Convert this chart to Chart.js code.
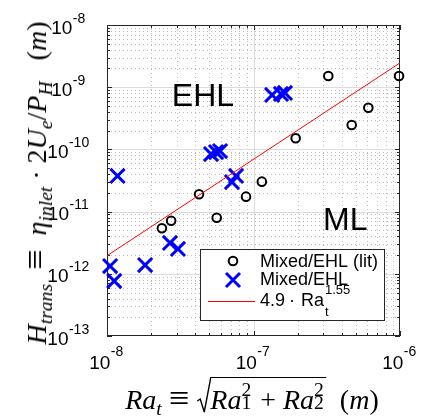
<!DOCTYPE html>
<html>
<head>
<meta charset="utf-8">
<script src="https://cdn.jsdelivr.net/npm/chart.js@4.4.1/dist/chart.umd.min.js"></script>
<style>
  body { margin: 0; background: #fff; }
  #wrap { position: relative; width: 422px; height: 416px; overflow: hidden; }
  .math { position: absolute; font-family: "Liberation Serif", serif; white-space: nowrap; color: #000; line-height: 1; }
  .math i { font-style: italic; }
  .math .sb { font-size: 0.7em; position: relative; top: 0.3em; }
  .math .eq { font-size: 1.3em; line-height: 0; position: relative; top: 0.04em; }
  .ss { display: inline-block; position: relative; width: 0.42em; height: 1em; }
  .ss .u { position: absolute; left: 0; top: -0.05em; font-size: 0.7em; line-height: 1; }
  .ss .d { position: absolute; left: 0; top: 0.62em; font-size: 0.7em; line-height: 1; }
  .rad { display: inline-block; vertical-align: -4px; margin-right: -1px; }
  .ov { display: inline-block; border-top: 1.3px solid #000; padding-top: 0.1em; }
  #ytitle { font-size: 28px; left: 37px; top: 183px; transform: translate(-50%, -50%) rotate(-90deg); }
  #xtitle { font-size: 28px; left: 252px; top: 377px; transform: translateX(-50%); }
</style>
</head>
<body>
<div id="wrap">
  <canvas id="chart" width="422" height="416"></canvas>
  <div id="ytitle" class="math"><i>H</i><span class="sb"><i>trans</i></span>&nbsp; <span class="eq">&equiv;</span>&nbsp; <i>&eta;</i><span class="sb"><i>inlet</i></span> &middot; 2<i>U</i><span class="sb"><i>e</i></span>/<i>P</i><span class="sb"><i>H</i></span> &nbsp; (<i>m</i>)</div>
  <div id="xtitle" class="math"><i>Ra</i><span class="sb"><i>t</i></span> <span class="eq">&equiv;</span> <svg class="rad" width="15" height="36" viewBox="0 0 15 36"><polyline points="1,24 4,22 8,35 14.5,0.7 15,0.7" fill="none" stroke="#000" stroke-width="1.4"/></svg><span class="ov"><i>Ra</i><span class="ss"><span class="u">2</span><span class="d">1</span></span> + <i>Ra</i><span class="ss"><span class="u">2</span><span class="d">2</span></span></span> &nbsp;(<i>m</i>)</div>
</div>
<script>
// literature points (black circles)
const litX = [3.24e-7, 9.85e-7, 6.08e-7, 4.68e-7, 1.94e-7, 1.14e-7, 4.25e-8, 8.89e-8, 5.61e-8, 2.74e-8, 2.37e-8];
const litY = [1.51e-9, 1.51e-9, 4.68e-10, 2.47e-10, 1.51e-10, 3.03e-11, 1.90e-11, 1.74e-11, 7.98e-12, 7.14e-12, 5.39e-12];

// own measurements (blue crosses)
const expX = [1.34e-7, 1.54e-7, 1.64e-7, 5.13e-8, 5.55e-8, 5.91e-8, 7.13e-8, 7.60e-8, 1.18e-8, 2.69e-8, 3.05e-8, 1.82e-8, 1.05e-8, 1.12e-8];
const expY = [7.5e-10, 7.78e-10, 8.07e-10, 8.43e-11, 9.08e-11, 9.42e-11, 2.99e-11, 3.74e-11, 3.74e-11, 3.13e-12, 2.51e-12, 1.38e-12, 1.33e-12, 7.66e-13];

// fit line 4.9 * Ra^1.55, end points
const fitX = [1e-8, 1e-6];
const fitY = [1.95e-12, 2.46e-9];

const xTicks = [1e-8, 1e-7, 1e-6];
const xTickExp = ['-8', '-7', '-6'];
const yTicks = [1e-13, 1e-12, 1e-11, 1e-10, 1e-9, 1e-8];
const yTickExp = ['-13', '-12', '-11', '-10', '-9', '-8'];

const legendLabels = ['Mixed/EHL (lit)', 'Mixed/EHL'];

function minorsFor(ticks) {
  const out = [];
  for (let i = 0; i < ticks.length - 1; i++) {
    for (let k = 2; k <= 9; k++) out.push(ticks[i] * k);
  }
  return out;
}

function drawPow(ctx, cx, base, exp, baseY, supY, bigFont, smallFont) {
  ctx.font = bigFont;
  const w1 = ctx.measureText(base).width;
  ctx.font = smallFont;
  const w2 = ctx.measureText(exp).width;
  const x0 = cx - (w1 + w2) / 2;
  ctx.font = bigFont;
  ctx.fillText(base, x0, baseY);
  ctx.font = smallFont;
  ctx.fillText(exp, x0 + w1 + 0.5, supY);
}

const matlabAxes = {
  id: 'matlabAxes',
  beforeDatasetsDraw(chart) {
    const ctx = chart.ctx;
    const { left, right, top, bottom } = chart.chartArea;
    const xs = chart.scales.x, ys = chart.scales.y;
    const xMinor = minorsFor(xTicks), yMinor = minorsFor(yTicks);
    ctx.save();
    ctx.lineWidth = 1;

    // minor grid, dotted
    ctx.strokeStyle = '#bdbdbd';
    ctx.setLineDash([1, 3]);
    ctx.beginPath();
    xMinor.forEach(v => {
      const p = Math.round(xs.getPixelForValue(v)) + 0.5;
      ctx.moveTo(p, top); ctx.lineTo(p, bottom);
    });
    yMinor.forEach(v => {
      const p = Math.round(ys.getPixelForValue(v)) + 0.5;
      ctx.moveTo(left, p); ctx.lineTo(right, p);
    });
    ctx.stroke();

    // major grid
    ctx.setLineDash([]);
    ctx.strokeStyle = '#dcdcdc';
    ctx.beginPath();
    xTicks.slice(1, -1).forEach(v => {
      const p = Math.round(xs.getPixelForValue(v)) + 0.5;
      ctx.moveTo(p, top); ctx.lineTo(p, bottom);
    });
    yTicks.slice(1, -1).forEach(v => {
      const p = Math.round(ys.getPixelForValue(v)) + 0.5;
      ctx.moveTo(left, p); ctx.lineTo(right, p);
    });
    ctx.stroke();

    // box + inward ticks
    ctx.strokeStyle = '#262626';
    ctx.strokeRect(left + 0.5, top + 0.5, right - left - 1, bottom - top - 1);
    ctx.beginPath();
    const tickX = (v, len) => {
      const p = Math.round(xs.getPixelForValue(v)) + 0.5;
      ctx.moveTo(p, bottom); ctx.lineTo(p, bottom - len);
      ctx.moveTo(p, top); ctx.lineTo(p, top + len);
    };
    const tickY = (v, len) => {
      const p = Math.round(ys.getPixelForValue(v)) + 0.5;
      ctx.moveTo(left, p); ctx.lineTo(left + len, p);
      ctx.moveTo(right, p); ctx.lineTo(right - len, p);
    };
    xMinor.forEach(v => tickX(v, 3));
    xTicks.forEach(v => tickX(v, 5));
    yMinor.forEach(v => tickY(v, 3));
    yTicks.forEach(v => tickY(v, 5));
    ctx.stroke();

    // tick labels
    ctx.fillStyle = '#000';
    ctx.textBaseline = 'alphabetic';
    ctx.textAlign = 'left';
    xTicks.forEach((v, i) => {
      const p = xs.getPixelForValue(v);
      drawPow(ctx, p - 1, '10', xTickExp[i], 369, 356, '19px "Liberation Sans"', '14px "Liberation Sans"');
    });
    yTicks.forEach((v, i) => {
      const p = ys.getPixelForValue(v);
      drawPow(ctx, 68, '10', yTickExp[i], p + 8.5, p - 2.5, '19px "Liberation Sans"', '14px "Liberation Sans"');
    });

    // region labels
    ctx.font = '32px "Liberation Sans"';
    ctx.fillText('EHL', xs.getPixelForValue(2.77e-8), ys.getPixelForValue(4.99e-10));
    ctx.fillText('ML', xs.getPixelForValue(2.98e-7), ys.getPixelForValue(5.06e-12));
    ctx.restore();
  },
  afterDraw(chart) {
    const ctx = chart.ctx;
    ctx.save();
    // legend box
    const bx = 200.5, by = 249.5, bw = 184, bh = 71;
    ctx.fillStyle = '#fff';
    ctx.fillRect(bx, by, bw, bh);
    ctx.strokeStyle = '#262626';
    ctx.lineWidth = 1;
    ctx.strokeRect(bx, by, bw, bh);

    const mx = 233;
    // circle
    ctx.strokeStyle = '#000';
    ctx.lineWidth = 2;
    ctx.beginPath();
    ctx.arc(mx, 261, 4.3, 0, Math.PI * 2);
    ctx.stroke();
    // cross
    ctx.strokeStyle = '#0000ff';
    ctx.lineWidth = 3;
    ctx.beginPath();
    ctx.moveTo(mx - 7, 273); ctx.lineTo(mx + 7, 287);
    ctx.moveTo(mx - 7, 287); ctx.lineTo(mx + 7, 273);
    ctx.stroke();
    // line
    ctx.strokeStyle = '#ff0000';
    ctx.lineWidth = 1;
    ctx.beginPath();
    ctx.moveTo(208, 301.5); ctx.lineTo(255, 301.5);
    ctx.stroke();

    ctx.fillStyle = '#000';
    ctx.textAlign = 'left';
    ctx.font = '18px "Liberation Sans"';
    ctx.fillText(legendLabels[0], 260, 267);
    ctx.fillText(legendLabels[1], 260, 285);
    ctx.fillText('4.9', 260, 306);
    ctx.textAlign = 'center';
    ctx.fillText('\u00b7', 292, 306);
    ctx.textAlign = 'left';
    ctx.fillText('Ra', 301, 306);
    const raW = ctx.measureText('Ra').width;
    ctx.font = '13px "Liberation Sans"';
    ctx.fillText('1.55', 301 + raW + 1, 294);
    ctx.fillText('t', 301 + raW + 1, 316);
    ctx.restore();
  }
};

const toPts = (xs, ys) => xs.map((x, i) => ({ x, y: ys[i] }));

new Chart(document.getElementById('chart'), {
  type: 'scatter',
  data: {
    datasets: [
      {
        label: '4.9 Ra^1.55',
        data: toPts(fitX, fitY),
        showLine: true, borderColor: '#ff0000', borderWidth: 1,
        pointRadius: 0, fill: false, order: 0, clip: false
      },
      {
        label: legendLabels[1],
        data: toPts(expX, expY),
        pointStyle: 'crossRot', pointRadius: 10, borderColor: '#0000ff', borderWidth: 3,
        order: 1, clip: false
      },
      {
        label: legendLabels[0],
        data: toPts(litX, litY),
        pointStyle: 'circle', pointRadius: 4.3, borderColor: '#000000',
        backgroundColor: 'rgba(0,0,0,0)', borderWidth: 2, order: 2, clip: false
      }
    ]
  },
  options: {
    responsive: false, animation: false, events: [],
    devicePixelRatio: 1,
    layout: { padding: { left: 107, right: 22, top: 25, bottom: 80 } },
    plugins: { legend: { display: false }, tooltip: { enabled: false } },
    scales: {
      x: { type: 'logarithmic', min: 1e-8, max: 1e-6, display: false },
      y: { type: 'logarithmic', min: 1e-13, max: 1e-8, display: false }
    }
  },
  plugins: [matlabAxes]
});
</script>
</body>
</html>
